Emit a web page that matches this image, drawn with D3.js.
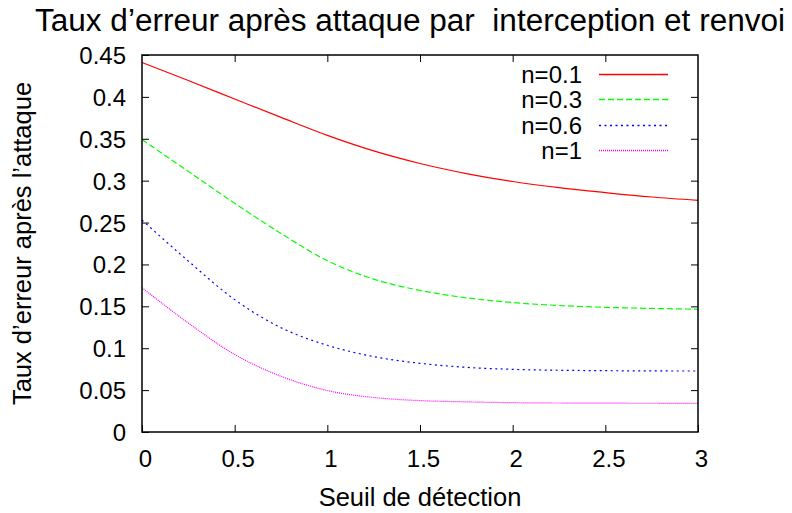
<!DOCTYPE html>
<html>
<head>
<meta charset="utf-8">
<script src="https://cdn.jsdelivr.net/npm/d3@7"></script>
<style>
  html, body { margin: 0; padding: 0; background: #fff; }
  svg { display: block; font-family: "Liberation Sans", Arial, Helvetica, sans-serif; }
  text { white-space: pre; }
</style>
</head>
<body>
<svg id="chart" width="792" height="513"></svg>
<script>
// Detection threshold values (x)
const seuils = [0, 0.25, 0.5, 0.75, 1, 1.25, 1.5, 1.75, 2, 2.25, 2.5, 2.75, 3];

// Error rate after the attack, one series per n
const tauxN01 = [0.441, 0.4195, 0.3975, 0.3755, 0.354, 0.3355, 0.3205, 0.3085, 0.299, 0.2917, 0.2858, 0.2805, 0.2765];
const tauxN03 = [0.349, 0.311, 0.273, 0.237, 0.2045, 0.1825, 0.169, 0.1602, 0.1545, 0.151, 0.1488, 0.1475, 0.1466];
const tauxN06 = [0.253, 0.204, 0.158, 0.1245, 0.1035, 0.09, 0.082, 0.0772, 0.0748, 0.0737, 0.0732, 0.0729, 0.0728];
const tauxN1  = [0.1723, 0.130, 0.0925, 0.0665, 0.0495, 0.0412, 0.0375, 0.036, 0.035, 0.0346, 0.0344, 0.0343, 0.0342];

const seriesNames = ["n=0.1", "n=0.3", "n=0.6", "n=1"];
const seriesValues = [tauxN01, tauxN03, tauxN06, tauxN1];
const seriesColors = ["#ff0000", "#00ff00", "#0000ff", "#ff00ff"];
const seriesDash = [null, "6,3", "2,3.5", "1,1"];

const xTicks = [0, 0.5, 1, 1.5, 2, 2.5, 3];
const xTickLabels = ["0", "0.5", "1", "1.5", "2", "2.5", "3"];
const yTicks = [0, 0.05, 0.1, 0.15, 0.2, 0.25, 0.3, 0.35, 0.4, 0.45];
const yTickLabels = ["0", "0.05", "0.1", "0.15", "0.2", "0.25", "0.3", "0.35", "0.4", "0.45"];

const titleText = "Taux d\u2019erreur après attaque par  interception et renvoi";
const xLabelText = "Seuil de détection";
const yLabelText = "Taux d\u2019erreur après l\u2019attaque";

const svg = d3.select("#chart");
const plotLeft = 142, plotRight = 698, plotTop = 55, plotBottom = 432;

const x = d3.scaleLinear().domain([0, 3]).range([plotLeft, plotRight]);
const y = d3.scaleLinear().domain([0, 0.45]).range([plotBottom, plotTop]);

// Curves
const line = d3.line()
  .x(d => x(d[0]))
  .y(d => y(d[1]))
  .curve(d3.curveMonotoneX);

seriesValues.forEach((vals, i) => {
  const pts = seuils.map((s, k) => [s, vals[k]]);
  svg.append("path")
    .attr("d", line(pts))
    .attr("fill", "none")
    .attr("stroke", seriesColors[i])
    .attr("stroke-width", 1.2)
    .attr("stroke-dasharray", seriesDash[i]);
});

// Axes with inward ticks on all four sides
const tickLen = 7;
const fontSize = 24;

const axB = svg.append("g").attr("transform", `translate(0,${plotBottom})`)
  .call(d3.axisBottom(x).tickValues(xTicks).tickSize(-tickLen).tickFormat((d, i) => xTickLabels[i]));
const axT = svg.append("g").attr("transform", `translate(0,${plotTop})`)
  .call(d3.axisTop(x).tickValues(xTicks.slice(1, -1)).tickSize(-tickLen).tickFormat(""));
const axL = svg.append("g").attr("transform", `translate(${plotLeft},0)`)
  .call(d3.axisLeft(y).tickValues(yTicks).tickSize(-tickLen).tickFormat((d, i) => yTickLabels[i]));
const axR = svg.append("g").attr("transform", `translate(${plotRight},0)`)
  .call(d3.axisRight(y).tickValues(yTicks.slice(1, -1)).tickSize(-tickLen).tickFormat(""));

[axB, axT, axL, axR].forEach(g => {
  g.select(".domain").remove();
  g.selectAll(".tick line").attr("stroke", "#000").attr("stroke-width", 1);
});

axB.selectAll(".tick text")
  .attr("font-size", fontSize).attr("font-family", "Liberation Sans, Arial, sans-serif")
  .attr("fill", "#000").attr("dy", null).attr("y", 35).attr("dx", 3);
axL.selectAll(".tick text")
  .attr("font-size", fontSize).attr("font-family", "Liberation Sans, Arial, sans-serif")
  .attr("fill", "#000").attr("dy", null).attr("x", -16).attr("y", 8.5);

// Frame
svg.append("rect")
  .attr("x", plotLeft).attr("y", plotTop)
  .attr("width", plotRight - plotLeft).attr("height", plotBottom - plotTop)
  .attr("fill", "none").attr("stroke", "#000").attr("stroke-width", 1.5);

// Legend
const legY = [74.5, 99.5, 125.5, 150.5];
seriesNames.forEach((name, i) => {
  svg.append("text")
    .attr("x", 582).attr("y", legY[i] + 8.3)
    .attr("text-anchor", "end")
    .attr("font-size", fontSize)
    .attr("fill", "#000")
    .text(name);
  svg.append("line")
    .attr("x1", 599).attr("x2", 668)
    .attr("y1", legY[i]).attr("y2", legY[i])
    .attr("stroke", seriesColors[i])
    .attr("stroke-width", 1.5)
    .attr("stroke-dasharray", seriesDash[i]);
});

// Title
svg.append("text")
  .attr("x", 35).attr("y", 31)
  .attr("font-size", 31)
  .attr("fill", "#000")
  .attr("textLength", 750)
  .attr("lengthAdjust", "spacingAndGlyphs")
  .text(titleText);

// Axis labels
svg.append("text")
  .attr("x", (plotLeft + plotRight) / 2).attr("y", 506)
  .attr("text-anchor", "middle")
  .attr("font-size", 25.5)
  .attr("fill", "#000")
  .text(xLabelText);

svg.append("text")
  .attr("transform", `translate(31,${(plotTop + plotBottom) / 2}) rotate(-90)`)
  .attr("text-anchor", "middle")
  .attr("font-size", 25.5)
  .attr("fill", "#000")
  .text(yLabelText);
</script>
</body>
</html>
